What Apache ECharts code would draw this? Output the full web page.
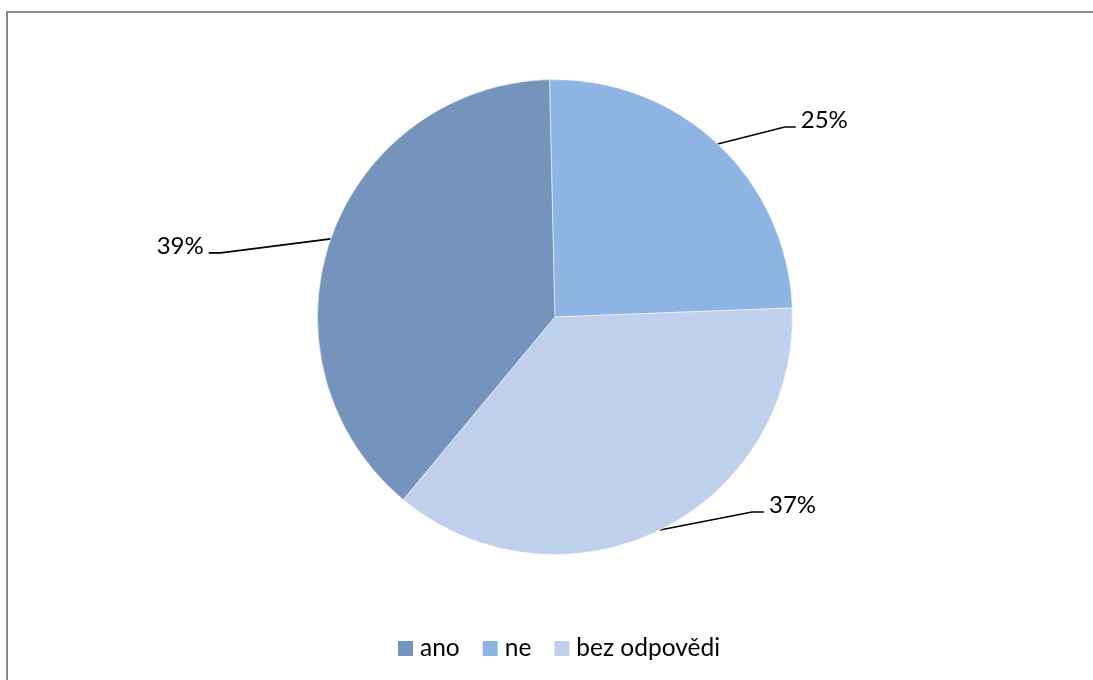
<!DOCTYPE html>
<html>
<head>
<meta charset="utf-8">
<script src="https://cdn.jsdelivr.net/npm/echarts@6/dist/echarts.min.js"></script>
<style>
html,body{margin:0;padding:0;background:#fff;}
#chart{width:1093px;height:680px;}
</style>
</head>
<body>
<div id="chart"></div>
<script>
const categories = ['ano', 'ne', 'bez odpovědi'];
const values = [39, 25, 37];
const colors = ['#7594BD', '#8EB4E3', '#BED0EC'];

// label placement relative to the slice edge point (layout only)
const labelOffsets = [
  { dx: -122, dy: 14, knee: 12, side: 'right' },
  { dx: 78, dy: -17, knee: -11, side: 'left' },
  { dx: 104, dy: -18, knee: -12, side: 'left' }
];

const FONT = 'Lato, "Liberation Sans", sans-serif';
const chart = echarts.init(document.getElementById('chart'), null, { renderer: 'canvas' });

chart.setOption({
  animation: false,
  backgroundColor: '#ffffff',
  graphic: [{
    type: 'rect',
    shape: { x: 7, y: 12, width: 1200, height: 800 },
    style: { fill: 'none', stroke: '#878787', lineWidth: 2 },
    silent: true
  }],
  legend: {
    data: categories,
    left: 398,
    top: 636,
    padding: 0,
    icon: 'rect',
    itemWidth: 15,
    itemHeight: 15,
    itemGap: 23,
    itemStyle: { borderWidth: 0 },
    textStyle: { fontFamily: FONT, fontSize: 24.5, color: '#000', lineHeight: 24, padding: [0, 0, 0, 2] }
  },
  series: [{
    type: 'pie',
    center: [555, 317],
    radius: 237.5,
    startAngle: 230.3,
    clockwise: true,
    data: categories.map((c, i) => ({ name: c, value: values[i], itemStyle: { color: colors[i] } })),
    itemStyle: { borderColor: '#ffffff', borderWidth: 0.5 },
    label: {
      show: true,
      formatter: p => p.value + '%',
      fontFamily: FONT,
      fontSize: 24,
      color: '#000'
    },
    labelLine: {
      show: true,
      length: 20,
      length2: 15,
      lineStyle: { color: '#000', width: 1.6 }
    },
    labelLayout: function (params) {
      const pts = params.labelLinePoints;
      const o = labelOffsets[params.dataIndex];
      if (!pts || !o) return {};
      const p0 = pts[0];
      const end = [p0[0] + o.dx, p0[1] + o.dy];
      const knee = [end[0] + o.knee, end[1]];
      const gap = o.side === 'left' ? 5 : -5;
      return {
        x: end[0] + gap,
        y: end[1] - 7,
        align: o.side,
        verticalAlign: 'middle',
        labelLinePoints: [p0, knee, end]
      };
    }
  }]
});
</script>
</body>
</html>
